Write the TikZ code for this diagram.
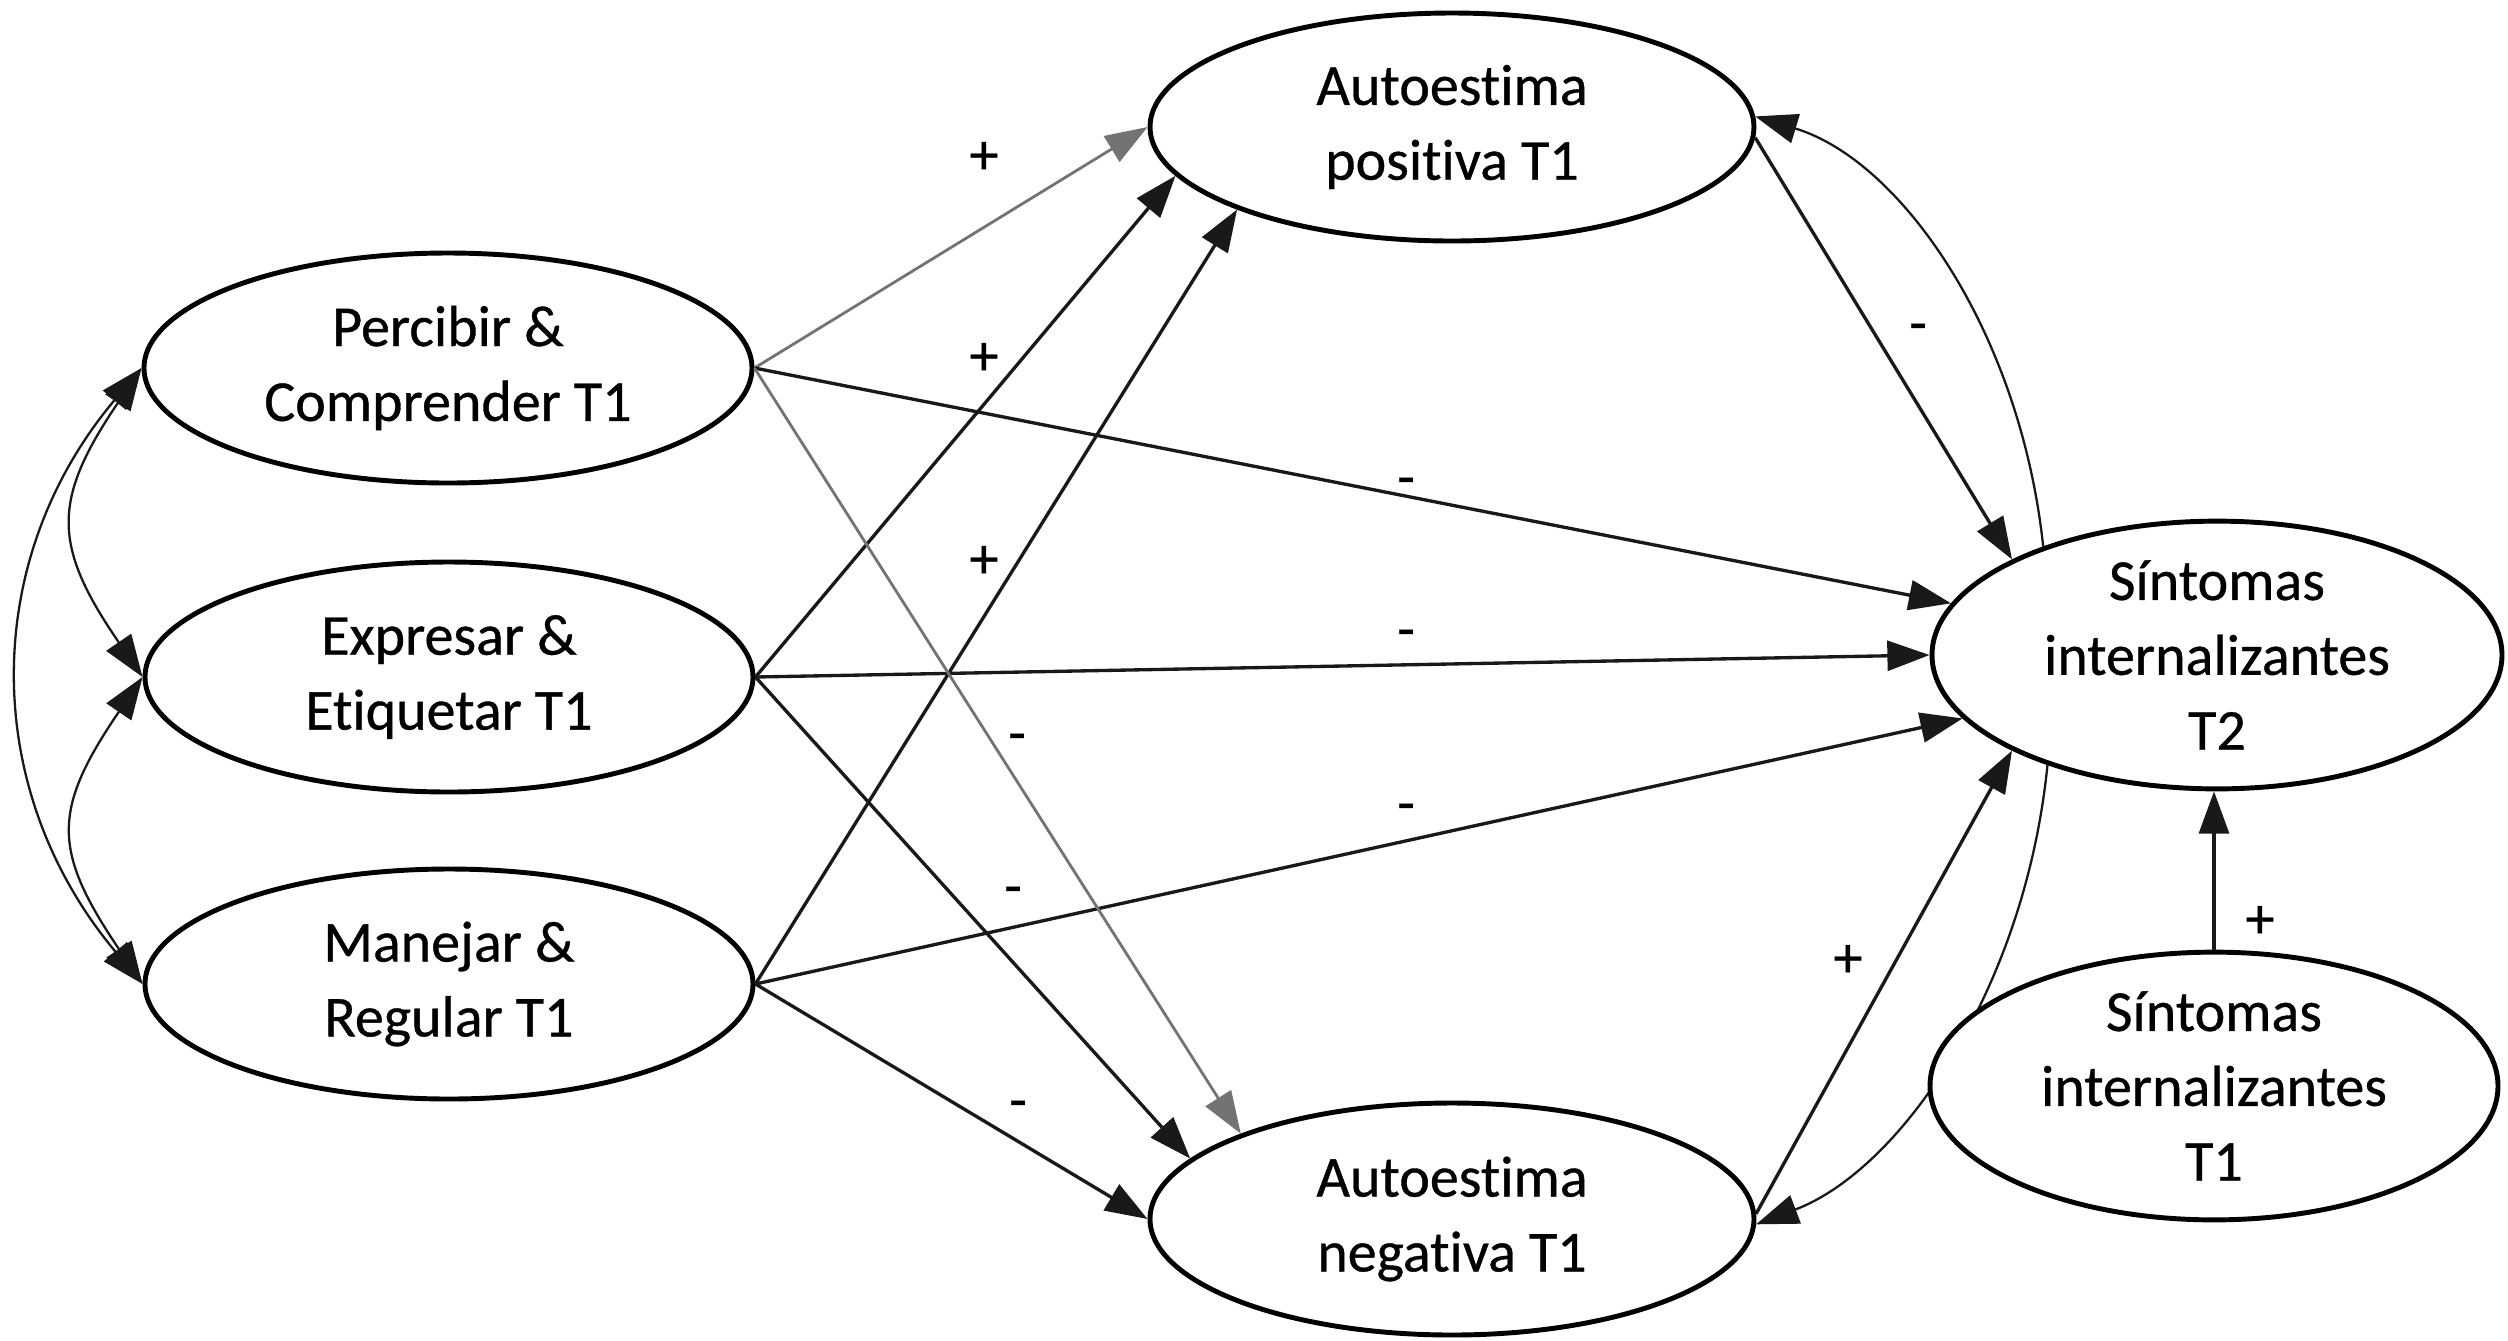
\documentclass[tikz,border=0pt]{standalone}
\usepackage{fontspec}
\setmainfont{Carlito}[Ligatures=CommonOff,FakeBold=0.6]
\usetikzlibrary{arrows.meta,shapes.geometric}
\begin{document}
\begin{tikzpicture}[x=0.1mm,y=-0.1mm,
  var/.style={ellipse,draw,line width=1.4pt,fill=white,inner sep=0pt,align=center,
    font=\fontsize{16.5}{21.3}\selectfont},
  conn/.style={line width=0.95pt,draw=black!90,-{Triangle[length=12pt,width=8.5pt]}},
  grayconn/.style={conn,line width=0.8pt,draw=black!55},
  cov/.style={line width=0.65pt,draw=black!90,{Triangle[length=12pt,width=8.5pt]}-{Triangle[length=12pt,width=8.5pt]}},
  onecov/.style={line width=0.65pt,draw=black!90,-{Triangle[length=12pt,width=8.5pt]}},
  lbl/.style={inner sep=0pt,font=\fontsize{16.5}{20}\selectfont}
]
\useasboundingbox (0,0) rectangle (2508,1340);

\node[var,minimum width=6.08cm,minimum height=2.30cm] (PC) at (448,368) {Percibir \&\\Comprender T1};
\node[var,minimum width=6.08cm,minimum height=2.30cm] (EE) at (449,677) {Expresar \&\\Etiquetar T1};
\node[var,minimum width=6.08cm,minimum height=2.30cm] (MR) at (449,984) {Manejar \&\\Regular T1};
\node[var,minimum width=6.04cm,minimum height=2.28cm] (AP) at (1452,127) {Autoestima\\positiva T1};
\node[var,minimum width=6.04cm,minimum height=2.32cm] (AN) at (1452,1219) {Autoestima\\negativa T1};
\node[var,minimum width=5.70cm,minimum height=2.60cm] (S2) at (2217,655) {Síntomas\\internalizantes\\T2};

% covariance T2 -- negative self-esteem (passes behind T1)
\draw[onecov] (S2.213.6) .. controls (2025,990) and (1900,1170) .. (AN.-1);

\node[var,minimum width=5.68cm,minimum height=2.62cm] (S1) at (2214,1086) {Síntomas\\internalizantes\\T1};

% left covariances
\draw[cov] (EE.west) .. controls (52,545) and (52,500) .. (PC.west);
\draw[cov] (EE.west) .. controls (52,810) and (52,850) .. (MR.west);
\draw[cov] (MR.west) .. controls (-20,790) and (-20,560) .. (PC.west);

% to positive self-esteem
\draw[grayconn] (PC.east) -- (AP.180);
\draw[conn] (EE.east) -- (AP.190.8);
\draw[conn] (MR.east) -- (AP.201);

% to T2
\draw[conn] (PC.east) -- (S2.169.5);
\draw[conn] (EE.east) -- (S2.180);
\draw[conn] (MR.east) -- (S2.194);

% to negative self-esteem
\draw[grayconn] (PC.east) -- (AN.158.5);
\draw[conn] (EE.east) -- (AN.167.2);
\draw[conn] (MR.east) -- (AN.180);

% self-esteem to T2
\draw[conn] (AP.-2) -- (S2.155.4);
\draw[conn] (AN.1) -- (S2.205.3);
\draw[onecov] (S2.148.2) .. controls (2020,330) and (1900,160) .. (AP.2);

% T1 to T2
\draw[conn] (S1.north) -- (S1.north |- S2.south);

% labels
\node[lbl] (l1) at (984,158) {+};
\node[lbl] (l2) at (984,359) {+};
\node[lbl] (l3) at (984,562) {+};
\node[lbl] (l4) at (1406,487) {-};
\node[lbl] (l5) at (1406,639) {-};
\node[lbl] (l6) at (1406,813) {-};
\node[lbl] (l7) at (1017,743) {-};
\node[lbl] (l8) at (1013,896) {-};
\node[lbl] (l9) at (1018,1110) {-};
\node[lbl] (l10) at (1918,333) {-};
\node[lbl] (l11) at (2260,922) {+};
\node[lbl] (l12) at (1848,961) {+};
\end{tikzpicture}
\end{document}
